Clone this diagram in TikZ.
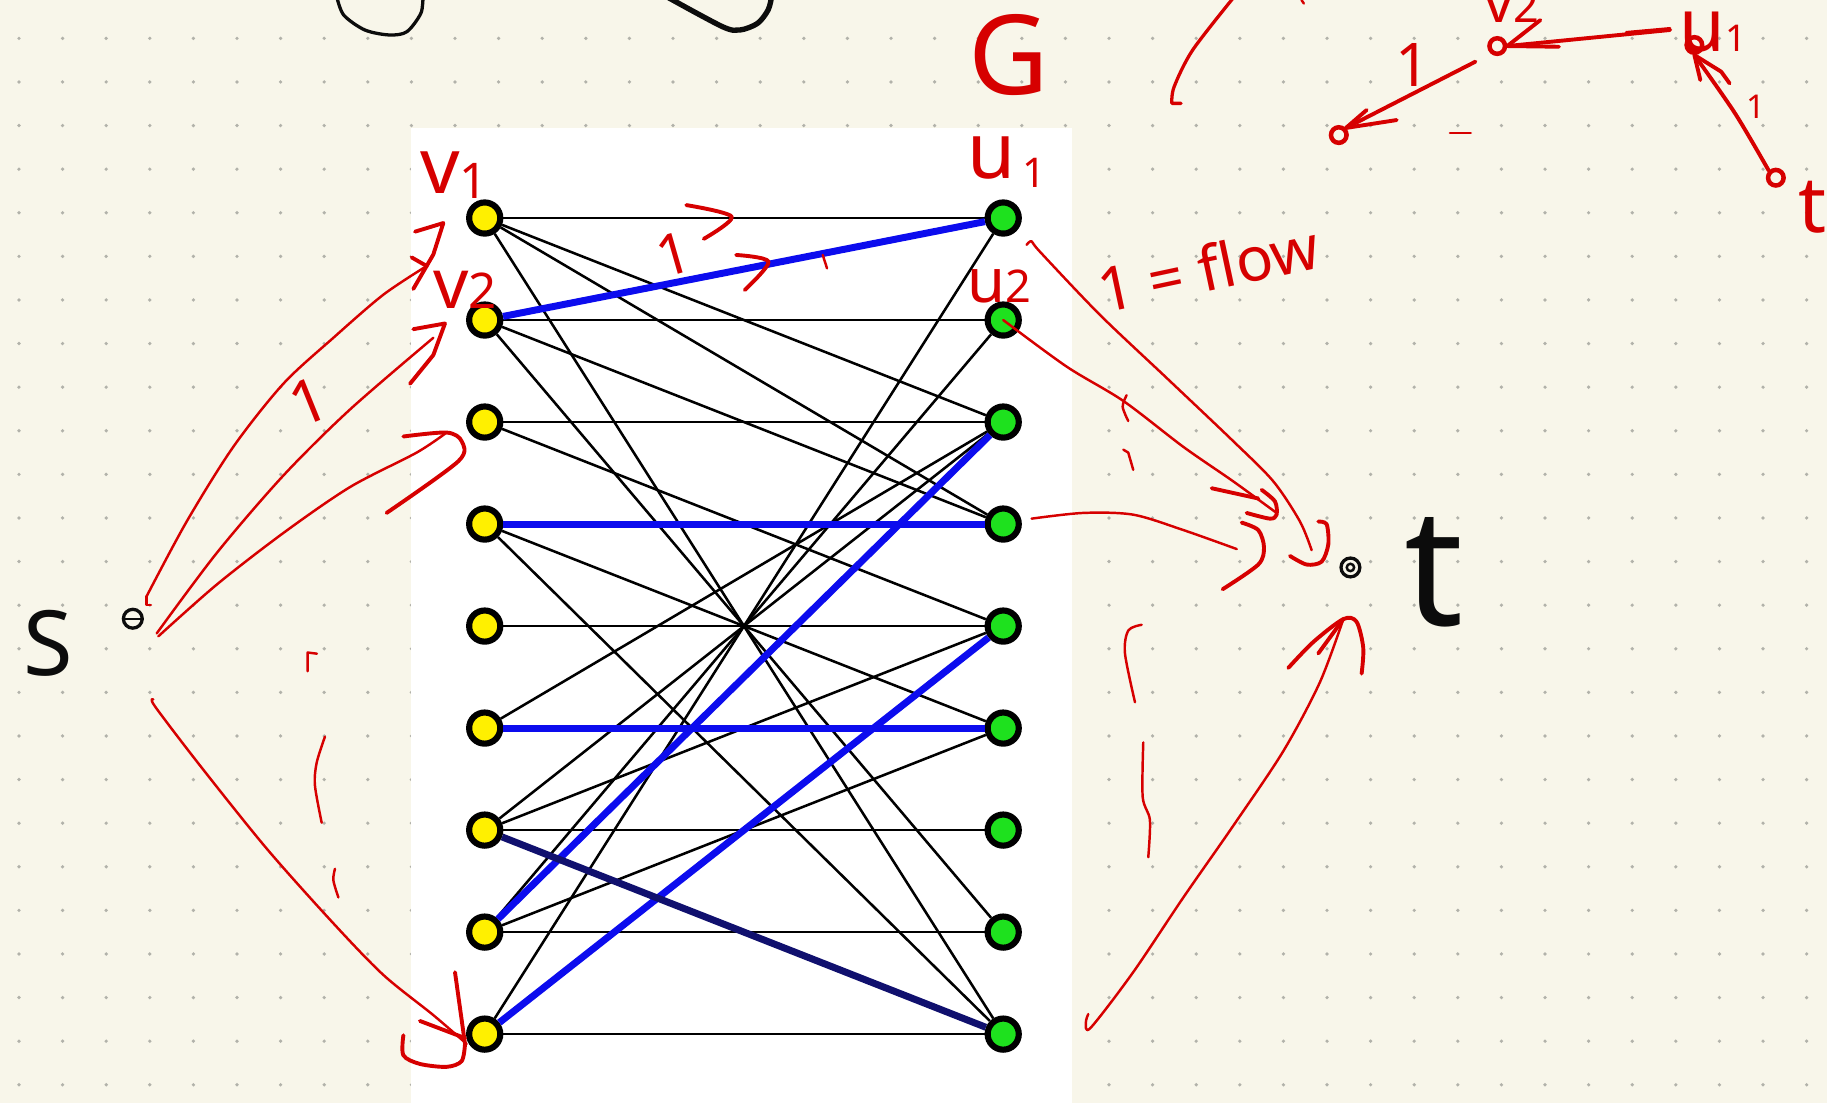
\documentclass[tikz,border=0pt]{standalone}
\usepackage{fontspec}
\setmainfont{Noto Sans}
\newcommand\hsz[1]{\fontsize{#1}{#1}\selectfont}
\begin{document}
\definecolor{paper}{RGB}{248,246,234}
\definecolor{dotc}{RGB}{178,178,170}
\definecolor{pen}{RGB}{214,0,0}
\definecolor{ink}{RGB}{12,12,12}
\definecolor{matchblue}{RGB}{12,12,238}
\definecolor{navy}{RGB}{16,16,110}
\definecolor{vyellow}{RGB}{255,240,0}
\definecolor{ugreen}{RGB}{30,225,30}
\tikzset{
  vnode/.style={circle, draw=black, line width=1.5pt, fill=vyellow, minimum size=7.6pt, inner sep=0pt},
  unode/.style={vnode, fill=ugreen},
  edge/.style={line width=0.62pt, black},
  medge/.style={line width=1.7pt, matchblue},
  nedge/.style={line width=1.7pt, navy},
  penline/.style={pen, line width=0.6pt, line cap=round, line join=round},
  penhead/.style={pen, line width=0.95pt, line cap=round, line join=round},
  pentext/.style={pen, inner sep=0pt},
  inkline/.style={ink, line width=1pt, line cap=round, line join=round},
  tinynode/.style={circle, draw, line width=0.8pt, minimum size=4.2pt, inner sep=0pt},
}
\begin{tikzpicture}[x=0.01cm,y=-0.01cm]
\useasboundingbox (0,0) rectangle (1568,947);
\fill[paper] (0,0) rectangle (1568,947);
\foreach \i in {0,...,41} \foreach \j in {0,...,24}
  \fill[dotc] (16.3+37.42*\i, 32.9+37.42*\j) circle[radius=0.45pt];
\fill[white] (353,110) rectangle (920,947);

% ---------- bipartite graph ----------
\foreach \i [evaluate=\i as \yy using 187.1+87.55*(\i-1)] in {1,...,9} {
  \node[vnode] (L\i) at (416,\yy) {};
  \node[unode] (R\i) at (861,\yy) {};
}
\foreach \a/\b in {1/1,2/2,3/3,5/5,7/7,8/8,9/9,1/3,1/4,1/9,2/4,2/8,3/5,4/6,4/9,6/3,7/3,7/5,8/2,8/6,9/1}
  \draw[edge] (L\a) -- (R\b);
\foreach \a/\b in {2/1,4/4,6/6,8/3,9/5}
  \draw[medge] (L\a) -- (R\b);
\draw[nedge] (L7) -- (R9);

% ---------- black handwriting ----------
\draw[inkline, line width=0.8pt] plot[smooth] coordinates {(289,-3) (295,12.9) (313.1,25.7) (334.1,30) (349.2,27.2) (361.2,11.4) (363,-3)};
\draw[inkline, line width=1.3pt] plot[smooth] coordinates {(571.9,-3) (620.1,22.9) (635.2,25.7) (650.2,20) (659.2,8.6) (662.3,-3)};
\node[ink, inner sep=0pt, font=\hsz{22}] (slabel) at (41,552) {S};
\node[tinynode, draw=ink, minimum size=4.6pt] (s) at (114,531) {};
\draw[ink, line width=0.6pt] (s.west) -- (s.east);
\node[ink, inner sep=0pt, font=\hsz{40}] (tlabel) at (1231,491) {t};
\node[tinynode, draw=ink, minimum size=4.6pt] (t) at (1159,487) {};
\node[circle, draw=ink, line width=0.6pt, minimum size=1.8pt, inner sep=0pt] (tin) at (t) {};

% ---------- red labels ----------
\node[pentext, font=\hsz{27}] (G) at (865.5,47) {G};
\node[pentext, anchor=base west, font=\hsz{19}] (lv1) at (360,166) {v\raisebox{-1.2pt}{\hsz{12}1}};
\node[pentext, anchor=base west, font=\hsz{19}] (lu1) at (830,153) {u\raisebox{-2.3pt}{\hsz{10}\,1}};
\node[pentext, anchor=base west, font=\hsz{17}] (lv2) at (371,265) {v\hsz{12}2};
\node[pentext, anchor=base west, font=\hsz{15}] (lu2) at (830,260) {u\hsz{11}2};
\node[pentext, font=\hsz{14}, rotate=16] (oneb) at (578,218) {1};
\node[pentext, font=\hsz{15}, rotate=22] (ones) at (265,345) {1};
\node[pentext, font=\hsz{15}, rotate=12] (flow) at (1037,230) {1 = flow};

% ">" marks on the matched edge
\draw[penhead] plot[smooth] coordinates {(589,176) (628,186) (604,205)};
\draw[penhead] plot[smooth] coordinates {(631.8,218.8) (659.6,224.6) (639.2,248.9)};
\draw[penline] (706.1,218.8) -- (709.8,230.3);

% ---------- arrows from s ----------
\coordinate (a1s) at (125.9,511.6);
\coordinate (a1e) at (366.2,228.3);
\draw[penline] (129.5,519) -- (125.9,519) -- (a1s);
\draw[penline] plot[smooth] coordinates {(a1s) (160.2,447.6) (200.2,383.5) (243.2,329.3) (286.1,289.9) (329,252.9) (a1e)};
\draw[penhead] (356.2,198.8) -- (380.5,191.4) -- (371.9,218.4) -- (354.7,248);
\draw[penhead] (353.3,220.9) -- (a1e);

\coordinate (a2s) at (134.5,543.6);
\coordinate (a2e) at (371.9,289.9);
\draw[penline] plot[smooth] coordinates {(a2s) (186,474.6) (243.2,408.1) (300.4,351.4) (a2e)};
\draw[penhead] (354.7,282.5) -- (381.9,277.6) -- (371.9,304.7) -- (351.9,329.3);

\coordinate (a3s) at (135.9,546.1);
\coordinate (a3e) at (383.3,371.2);
\draw[penline] plot[smooth] coordinates {(a3s) (186,501.7) (243.2,457.4) (300.4,418) (357.6,388.4) (a3e)};
\draw[penhead] plot[smooth] coordinates {(346.2,374.6) (a3e) (396.2,378.6) (393.4,395.8) (331.8,440.2)};

\coordinate (a4s) at (131.6,600.2);
\coordinate (a4e) at (400.5,895.9);
\draw[penline] plot[smooth] coordinates {(a4s) (133,606.2) (171.6,656.9) (228.9,728.3) (286.1,792.4) (329,836.7) (371.9,871.2) (a4e)};
\draw[penhead] (390.5,834.4) -- (399.1,895.9);
\draw[penhead] (360.4,876.2) -- (399.1,890.9);
\draw[penhead] plot[smooth] coordinates {(399.1,895.9) (396.2,910.7) (383.3,915.6) (360.4,913.1) (346.2,905.7) (346.2,888.5)};

% small marks on the left
\draw[penline] (264,576) -- (264,560) -- (272,561);
\draw[penline] plot[smooth] coordinates {(278.9,632.2) (271.8,654.5) (270.3,674.1) (276.1,706.1)};
\draw[penline] plot[smooth] coordinates {(287.5,745.6) (286.1,755.4) (290.4,770.2)};

% ---------- arrows to t ----------
\coordinate (b1s) at (881.1,210.1);
\coordinate (b1e) at (1125.7,472.2);
\draw[penline] plot[smooth] coordinates {(b1s) (885.4,207.1) (892.5,216) (944,270.2) (1001.3,324.4) (1058.4,378.6) (1092.8,413.1) (1115.7,447.6) (b1e)};
\draw[penhead] plot[smooth] coordinates {(1107.1,477.1) (1121.4,484.5) (1134.3,482) (1140,467.2) (1138.6,450) (1131.4,447.6)};

\coordinate (b2e) at (1095.6,440.2);
\draw[penline] plot[smooth] coordinates {(R2.center) (915.4,314.6) (964.1,344.1) (1015.6,383.5) (1058.4,413.1) (b2e)};
\draw[penhead] (1039.9,419) -- (1079.9,427.8);
\draw[penhead] plot[smooth] coordinates {(1082.8,420.4) (1094.2,430.3) (1095.6,441.7) (1089.9,445.1) (1069.9,440.2)};
\draw[penline] plot[smooth] coordinates {(966.9,339.2) (963.5,349) (968.3,361.3)};
\draw[penline] (964.1,385.9) -- (968.3,388.4) -- (972.6,403.2);

\coordinate (b3s) at (885.4,445.1);
\coordinate (b3e) at (1061.4,471.2);
\draw[penline] plot[smooth] coordinates {(b3s) (929.7,440.2) (972.6,441.7) (1015.6,454.9) (b3e)};
\draw[penhead] plot[smooth] coordinates {(1065.6,448.5) (1079.9,454.9) (1084.8,469.7) (1079.9,484.5) (1049.3,505.7)};

\coordinate (b4s) at (934,870.3);
\coordinate (b4e) at (1152.9,531.3);
\draw[penline] plot[smooth] coordinates {(b4s) (932,877.1) (936,882.1) (972.6,834.3) (1015.6,770.2) (1058.4,708.7) (1101.4,644.6) (1132.8,585.5) (b4e)};
\draw[penhead] plot[smooth] coordinates {(1105.7,573.2) (1127.1,551) (b4e) (1164.3,533.7) (1170,556) (1168.6,578.1)};
\draw[penhead] (1131.4,560.8) -- (b4e);

\draw[penline] plot[smooth] coordinates {(979.8,536.2) (968.3,541.1) (965.5,560.8) (974.1,602.7)};
\draw[penline] plot[smooth] coordinates {(981.2,637.2) (980.7,684) (986.9,703.7) (985.5,735.7)};

% ---------- top right sketch ----------
\draw[penline, line width=0.8pt] plot[smooth] coordinates {(1059.4,-3) (1023.6,42.9) (1007.7,74.4) (1005.7,88.7)} -- (1013.6,88.7);
\draw[penline] (1117,0) -- (1119,3);

\node[tinynode, draw=pen, line width=1.1pt, minimum size=3.8pt] (tv2) at (1285,39.5) {};
\node[tinynode, draw=pen, line width=1.1pt, minimum size=3.8pt] (tu1) at (1454.2,38.6) {};
\node[tinynode, draw=pen, line width=1.1pt, minimum size=3.8pt] (tn3) at (1149,115.9) {};
\node[tinynode, draw=pen, line width=1.1pt, minimum size=3.8pt] (tt) at (1524.1,152.5) {};

\node[pentext, anchor=base west, font=\hsz{14}] (lv2top) at (1273,19) {v\hsz{11}2};
\node[pentext, anchor=base west, font=\hsz{18}] (lu1top) at (1441,44) {u\hsz{9}1};
\node[pentext, font=\hsz{14.7}] (onet1) at (1212.5,55.8) {1};
\node[pentext, font=\hsz{8}] (onet2) at (1507,91.5) {1};
\node[pentext, font=\hsz{19}] (ttop) at (1556,178) {t};
\draw[penline] (1244.4,113.9) -- (1262.3,113.9);

\coordinate (u1a) at (1433.4,25.7);
\draw[penhead] (u1a) -- (tv2.east);
\draw[penline] (1395.6,27.6) -- (1433.4,24.2);
\draw[penhead] (1322,17.2) -- (tv2.east) -- (1338,40.1);

\coordinate (v2a) at (1266.3,52.9);
\draw[penhead] (v2a) -- (tn3.north east);
\draw[penhead] (1172.9,94.4) -- (tn3.north east) -- (1198.7,103);

\draw[penhead] plot[smooth] coordinates {(tt.north west) (1489.1,97.3) (tu1.south)};
\draw[penhead] (1459.3,68.7) -- (tu1.south) -- (1477.2,61.5) -- (1484.4,71.5);
\end{tikzpicture}
\end{document}
